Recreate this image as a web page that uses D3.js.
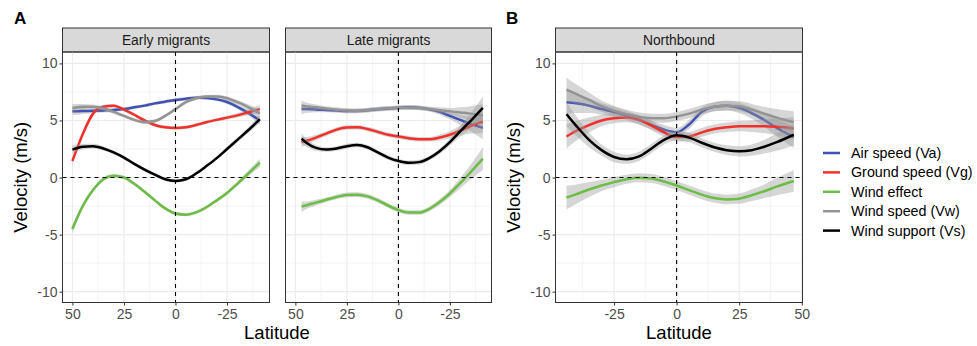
<!DOCTYPE html>
<html>
<head>
<meta charset="utf-8">
<script src="https://cdn.jsdelivr.net/npm/d3@7"></script>
<style>
    body { margin: 0; background: #fff; }
    text { font-family: "Liberation Sans", Arial, sans-serif; }
</style>
</head>
<body>
<svg width="977" height="346"></svg>
<script>
// series, in ggplot draw order
var seriesNames = ["Air speed (Va)", "Ground speed (Vg)", "Wind effect", "Wind speed (Vw)", "Wind support (Vs)"];
var seriesColors = ["#3f51b5", "#f2302b", "#6cbd45", "#949494", "#000000"];

var yTicks = [-10, -5, 0, 5, 10];

// Early migrants (latitude runs north -> south)
var latEarly = [50, 45, 40, 35, 30, 25, 20, 15, 10, 5, 0, -5, -10, -15, -20, -25, -30, -35, -40.9];
var earlyAir = [5.8, 5.82, 5.85, 5.88, 5.92, 6.0, 6.15, 6.3, 6.5, 6.65, 6.8, 6.9, 7.0, 6.98, 6.85, 6.62, 6.2, 5.7, 5.0];
var earlyGround = [1.45, 3.8, 5.6, 6.2, 6.3, 5.95, 5.5, 5.0, 4.6, 4.4, 4.35, 4.4, 4.6, 4.85, 5.05, 5.25, 5.45, 5.7, 6.0];
var earlyEffect = [-4.5, -2.5, -1.1, -0.15, 0.15, 0.0, -0.55, -1.25, -2.0, -2.7, -3.15, -3.25, -3.05, -2.6, -2.0, -1.35, -0.55, 0.3, 1.3];
var earlyWind = [6.1, 6.2, 6.2, 6.05, 5.75, 5.4, 5.05, 4.85, 4.95, 5.4, 6.0, 6.6, 6.95, 7.1, 7.1, 6.95, 6.6, 6.2, 5.6];
var earlySupport = [2.45, 2.7, 2.75, 2.55, 2.2, 1.75, 1.2, 0.7, 0.25, -0.15, -0.3, -0.15, 0.35, 1.0, 1.7, 2.5, 3.3, 4.1, 5.1];
var earlyBand = [0.35, 0.25, 0.2, 0.18, 0.15, 0.15, 0.15, 0.15, 0.15, 0.15, 0.15, 0.15, 0.15, 0.15, 0.15, 0.17, 0.2, 0.25, 0.35];

// Late migrants
var latLate = [47, 45, 40, 35, 30, 25, 20, 15, 10, 5, 0, -5, -10, -15, -20, -25, -30, -35, -41];
var lateAir = [6.0, 6.0, 5.97, 5.92, 5.87, 5.82, 5.83, 5.9, 5.98, 6.05, 6.12, 6.15, 6.12, 5.98, 5.75, 5.4, 5.05, 4.7, 4.35];
var lateGround = [3.1, 3.2, 3.5, 3.85, 4.2, 4.38, 4.4, 4.25, 4.0, 3.75, 3.6, 3.45, 3.35, 3.35, 3.5, 3.75, 4.1, 4.5, 4.9];
var lateEffect = [-2.55, -2.45, -2.2, -1.95, -1.7, -1.52, -1.5, -1.65, -2.0, -2.45, -2.85, -3.07, -3.07, -2.75, -2.15, -1.4, -0.5, 0.45, 1.65];
var lateWind = [6.3, 6.25, 6.15, 6.05, 5.95, 5.87, 5.85, 5.92, 6.0, 6.07, 6.1, 6.12, 6.1, 6.0, 5.9, 5.8, 5.7, 5.6, 5.45];
var lateSupport = [3.4, 3.1, 2.6, 2.45, 2.55, 2.75, 2.85, 2.65, 2.2, 1.75, 1.45, 1.3, 1.35, 1.7, 2.3, 3.1, 4.05, 4.95, 6.1];
var lateBand = [0.45, 0.35, 0.25, 0.2, 0.2, 0.2, 0.2, 0.2, 0.2, 0.2, 0.2, 0.2, 0.2, 0.2, 0.25, 0.3, 0.45, 0.65, 1.0];

// Northbound (latitude runs south -> north)
var latNorth = [-44, -40, -35, -30, -25, -20, -15, -10, -5, 0, 5, 10, 15, 20, 25, 30, 35, 40, 46.8];
var northAir = [6.6, 6.5, 6.3, 6.0, 5.75, 5.45, 5.05, 4.6, 4.2, 3.97, 4.65, 5.75, 6.2, 6.3, 6.1, 5.65, 5.05, 4.35, 3.55];
var northGround = [3.6, 4.1, 4.6, 5.0, 5.2, 5.25, 5.05, 4.55, 3.95, 3.55, 3.6, 3.95, 4.25, 4.4, 4.5, 4.5, 4.5, 4.45, 4.3];
var northEffect = [-1.75, -1.45, -1.05, -0.7, -0.4, -0.15, -0.02, -0.08, -0.35, -0.7, -1.1, -1.5, -1.8, -1.92, -1.85, -1.55, -1.2, -0.8, -0.3];
var northWind = [7.7, 7.3, 6.8, 6.25, 5.85, 5.55, 5.3, 5.2, 5.2, 5.35, 5.6, 5.95, 6.2, 6.3, 6.25, 5.95, 5.6, 5.25, 4.85];
var northSupport = [5.55, 4.5, 3.3, 2.4, 1.8, 1.6, 1.85, 2.55, 3.3, 3.7, 3.5, 3.05, 2.65, 2.4, 2.3, 2.4, 2.7, 3.1, 3.75];
var northBand = [1.05, 0.85, 0.65, 0.5, 0.45, 0.4, 0.4, 0.4, 0.4, 0.4, 0.4, 0.4, 0.4, 0.42, 0.45, 0.5, 0.6, 0.75, 0.95];

var svg = d3.select("svg");
var plotTop = 52, plotBottom = 302.5, stripTop = 28;

var y = d3.scaleLinear().domain([-10.95, 11.0]).range([plotBottom, plotTop]);

// ggplot prints a plain hyphen for negatives
function plain(d) { return String(d); }

function draw_panel(p) {
    var x = d3.scaleLinear().domain(p.xdomain).range([p.left, p.right]);
    var g = svg.append("g");

    // strip
    g.append("rect")
        .attr("x", p.left).attr("y", stripTop)
        .attr("width", p.right - p.left).attr("height", plotTop - stripTop)
        .attr("fill", "#d9d9d9").attr("stroke", "#333").attr("stroke-width", 1);
    g.append("text")
        .attr("x", (p.left + p.right) / 2).attr("y", (stripTop + plotTop) / 2)
        .attr("dy", "0.35em").attr("text-anchor", "middle")
        .attr("font-size", 13.8).attr("fill", "#1a1a1a")
        .text(p.title);

    // grid
    var minorY = [-7.5, -2.5, 2.5, 7.5];
    g.selectAll(".gy2").data(minorY).enter().append("line")
        .attr("x1", p.left).attr("x2", p.right)
        .attr("y1", function (d) { return y(d); }).attr("y2", function (d) { return y(d); })
        .attr("stroke", "#ececec").attr("stroke-width", 0.6);
    g.selectAll(".gx2").data(p.minorX).enter().append("line")
        .attr("y1", plotTop).attr("y2", plotBottom)
        .attr("x1", function (d) { return x(d); }).attr("x2", function (d) { return x(d); })
        .attr("stroke", "#ececec").attr("stroke-width", 0.6);
    g.selectAll(".gy").data(yTicks).enter().append("line")
        .attr("x1", p.left).attr("x2", p.right)
        .attr("y1", function (d) { return y(d); }).attr("y2", function (d) { return y(d); })
        .attr("stroke", "#ebebeb").attr("stroke-width", 1.1);
    g.selectAll(".gx").data(p.majorX).enter().append("line")
        .attr("y1", plotTop).attr("y2", plotBottom)
        .attr("x1", function (d) { return x(d); }).attr("x2", function (d) { return x(d); })
        .attr("stroke", "#ebebeb").attr("stroke-width", 1.1);

    // smooths: ribbon then line, per group
    var clip = "clip" + p.id;
    svg.append("clipPath").attr("id", clip).append("rect")
        .attr("x", p.left).attr("y", plotTop)
        .attr("width", p.right - p.left).attr("height", plotBottom - plotTop);
    var layer = g.append("g").attr("clip-path", "url(#" + clip + ")");

    var area = d3.area()
        .x(function (d) { return x(d.lat); })
        .y0(function (d) { return y(d.v - d.se); })
        .y1(function (d) { return y(d.v + d.se); })
        .curve(d3.curveMonotoneX);
    var line = d3.line()
        .x(function (d) { return x(d.lat); })
        .y(function (d) { return y(d.v); })
        .curve(d3.curveMonotoneX);

    for (var s = 0; s < p.values.length; s++) {
        var pts = p.lat.map(function (lat, i) {
            return { lat: lat, v: p.values[s][i], se: p.band[i] };
        });
        layer.append("path").datum(pts)
            .attr("fill", "#999").attr("fill-opacity", 0.4)
            .attr("d", area);
        layer.append("path").datum(pts)
            .attr("fill", "none")
            .attr("stroke", seriesColors[s])
            .attr("stroke-width", 2.5)
            .attr("d", line);
    }

    // reference lines
    g.append("line")
        .attr("x1", p.left).attr("x2", p.right)
        .attr("y1", y(0)).attr("y2", y(0))
        .attr("stroke", "#000").attr("stroke-width", 1.1).attr("stroke-dasharray", "4,4");
    g.append("line")
        .attr("x1", x(0)).attr("x2", x(0))
        .attr("y1", plotTop).attr("y2", plotBottom)
        .attr("stroke", "#000").attr("stroke-width", 1.1).attr("stroke-dasharray", "4,4");

    // border
    g.append("rect")
        .attr("x", p.left).attr("y", plotTop)
        .attr("width", p.right - p.left).attr("height", plotBottom - plotTop)
        .attr("fill", "none").attr("stroke", "#333").attr("stroke-width", 1);

    // x axis
    var xa = g.append("g")
        .attr("transform", "translate(0," + plotBottom + ")")
        .call(d3.axisBottom(x).tickValues(p.majorX).tickFormat(plain).tickSize(3).tickPadding(4));
    xa.select(".domain").remove();
    xa.selectAll("line").attr("stroke", "#333");
    xa.selectAll("text").attr("font-size", 14).attr("fill", "#4d4d4d")
        .attr("font-family", "Liberation Sans, Arial, sans-serif");

    if (p.yaxis) {
        var ya = g.append("g")
            .attr("transform", "translate(" + p.left + ",0)")
            .call(d3.axisLeft(y).tickValues(yTicks).tickFormat(plain).tickSize(3).tickPadding(2));
        ya.select(".domain").remove();
        ya.selectAll("line").attr("stroke", "#333");
        ya.selectAll("text").attr("font-size", 14).attr("fill", "#4d4d4d")
            .attr("font-family", "Liberation Sans, Arial, sans-serif");
    }
}

function axis_titles(cx, ytx, label) {
    svg.append("text")
        .attr("x", cx).attr("y", 339)
        .attr("text-anchor", "middle").attr("font-size", 18.5).attr("fill", "#000")
        .text("Latitude");
    svg.append("text")
        .attr("transform", "translate(" + ytx + "," + (plotTop + plotBottom) / 2 + ") rotate(-90)")
        .attr("text-anchor", "middle").attr("font-size", 18.5).attr("fill", "#000")
        .text("Velocity (m/s)");
    svg.append("text")
        .attr("x", label.x).attr("y", 24)
        .attr("font-size", 17).attr("font-weight", "bold").attr("fill", "#000")
        .text(label.t);
}

draw_panel({
    id: 1, title: "Early migrants", left: 62.5, right: 269.5, xdomain: [54.8, -45.6],
    majorX: [50, 25, 0, -25], minorX: [37.5, 12.5, -12.5, -37.5],
    lat: latEarly, band: earlyBand, yaxis: true,
    values: [earlyAir, earlyGround, earlyEffect, earlyWind, earlySupport]
});
draw_panel({
    id: 2, title: "Late migrants", left: 285.5, right: 491.5, xdomain: [54.8, -45.2],
    majorX: [50, 25, 0, -25], minorX: [37.5, 12.5, -12.5, -37.5],
    lat: latLate, band: lateBand, yaxis: false,
    values: [lateAir, lateGround, lateEffect, lateWind, lateSupport]
});
draw_panel({
    id: 3, title: "Northbound", left: 555.5, right: 802.5, xdomain: [-48.4, 50.3],
    majorX: [-25, 0, 25, 50], minorX: [-37.5, -12.5, 12.5, 37.5],
    lat: latNorth, band: northBand, yaxis: true,
    values: [northAir, northGround, northEffect, northWind, northSupport]
});

axis_titles(277, 27, { x: 14, t: "A" });
axis_titles(679, 520, { x: 506, t: "B" });

// legend
var legend = svg.selectAll(".legend")
    .data(seriesNames)
    .enter().append("g")
    .attr("class", "legend")
    .attr("transform", function (d, i) { return "translate(823," + (153 + i * 19.4) + ")"; });
legend.append("line")
    .attr("x1", 0).attr("x2", 17)
    .attr("stroke", function (d, i) { return seriesColors[i]; })
    .attr("stroke-width", 2.5);
legend.append("text")
    .attr("x", 28).attr("dy", "0.35em")
    .attr("font-size", 14.3).attr("fill", "#000")
    .text(function (d) { return d; });
</script>
</body>
</html>
